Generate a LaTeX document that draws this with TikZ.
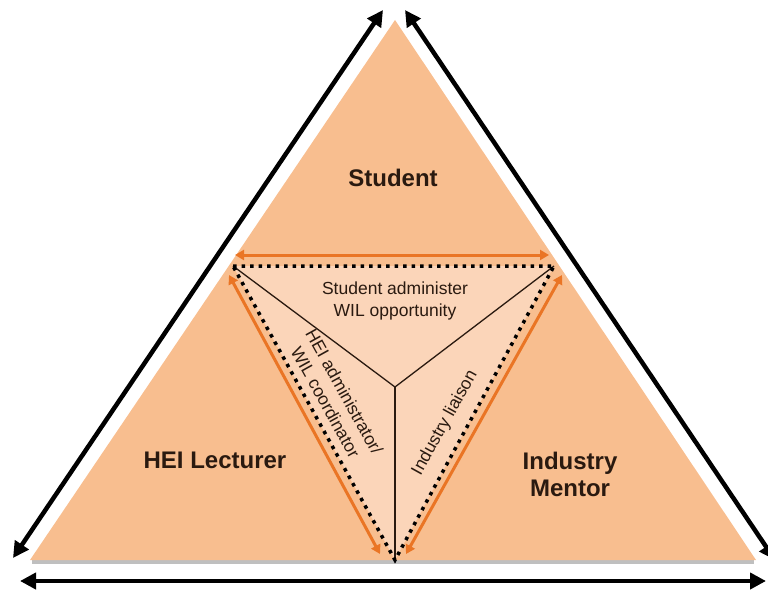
\documentclass[tikz,border=0pt]{standalone}
\usepackage{fontspec}
\setmainfont{Liberation Sans}
\usetikzlibrary{arrows.meta,calc,positioning}
\definecolor{peach}{HTML}{F8BE8F}
\definecolor{paleorange}{HTML}{FBD5B9}
\definecolor{linkorange}{HTML}{EA7525}
\definecolor{inktext}{HTML}{2A1A10}

\begin{document}
\begin{tikzpicture}[x=1pt,y=-1pt,
  bigarrow/.style={line width=4.5pt,{Triangle[length=16pt,width=16pt]}-{Triangle[length=16pt,width=16pt]}},
  linkarrow/.style={linkorange,line width=3pt,{Triangle[length=9pt,width=10pt]}-{Triangle[length=9pt,width=10pt]}},
  dotline/.style={line width=3.5pt,dash pattern=on 3.5pt off 5pt},
  spoke/.style={line width=1.3pt,inktext},
  role/.style={font=\bfseries\fontsize{24}{27}\selectfont,text=inktext,align=center},
  duty/.style={font=\fontsize{17.5}{21.5}\selectfont,text=inktext,align=center}]
  \useasboundingbox (0,0) rectangle (768,594);
  % corners of the outer and inner triangles
  \coordinate (apex) at (395,20);
  \coordinate (baseL) at (30,560);
  \coordinate (baseR) at (756,560);
  \coordinate (inTL) at (233,266);
  \coordinate (inTR) at (554,266);
  \coordinate (inB) at (395,560);
  \coordinate (hub) at (395,387);
  % outer triangle with a soft edge under the base
  \fill[black!25] ($(baseL)+(2,0)$) rectangle ($(baseR)+(-2,4)$);
  \fill[peach] (apex) -- (baseL) -- (baseR) -- cycle;
  % inner triangle
  \fill[paleorange] (inTL) -- (inTR) -- (inB) -- cycle;
  \draw[spoke] (inTL) -- (hub) -- (inTR);
  \draw[spoke] (hub) -- (inB);
  \draw[dotline] (inTL) -- (inTR) -- (inB) -- cycle;
  % orange links along the inner edges
  \coordinate (tA) at (235,255);
  \coordinate (tB) at (549,255);
  \coordinate (lA) at (229,275);
  \coordinate (lB) at (380,554);
  \coordinate (rA) at (562,275);
  \coordinate (rB) at (406,554);
  \draw[linkarrow] (tA) -- (tB);
  \draw[linkarrow] (lA) -- (lB);
  \draw[linkarrow] (rA) -- (rB);
  % black arrows round the outside
  \coordinate (kL1) at (13,558);
  \coordinate (kL2) at (383,10);
  \coordinate (kR1) at (405,10);
  \coordinate (kR2) at (775,560);
  \coordinate (kB1) at (20,581);
  \coordinate (kB2) at (766,581);
  \draw[bigarrow] (kL1) -- (kL2);
  \draw[bigarrow] (kR1) -- (kR2);
  \draw[bigarrow] (kB1) -- (kB2);
  % labels
  \node[role] (student) at (393,178) {Student};
  \node[role] (lecturer) at (215,460) {HEI Lecturer};
  \node[role] (mentor) at (570,474) {Industry\\Mentor};
  \node[duty] (admin) at (395,301) {Student administer\\WIL opportunity};
  \node[duty,rotate=-61] (coord) at (335,397) {HEI administrator/\\WIL coordinator};
  \node[duty,rotate=61] (liaison) at (445,423) {Industry liaison};
\end{tikzpicture}
\end{document}
